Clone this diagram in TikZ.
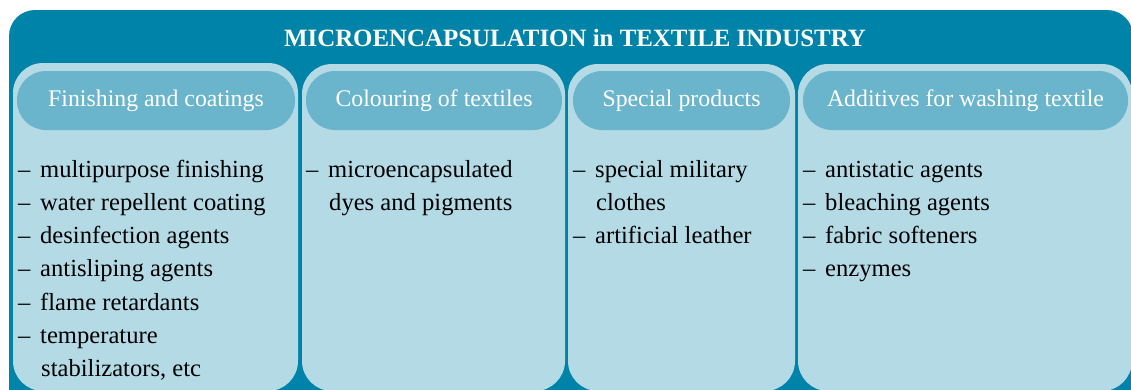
\documentclass[tikz,border=0pt]{standalone}
\usepackage{fontspec}
\setmainfont{Liberation Serif}
\definecolor{darkteal}{HTML}{0083A8}
\definecolor{panelblue}{HTML}{B3DAE5}
\definecolor{pillblue}{HTML}{6AB5CB}
\newcommand{\itm}[1]{\makebox[22pt][l]{--}#1}
\newcommand{\cnt}[1]{\hspace*{23pt}#1}

\begin{document}
\begin{tikzpicture}[x=1pt, y=-1pt,
        panel/.style={fill=panelblue, rounded corners=30pt},
        pill/.style={fill=pillblue, rounded corners=29pt, minimum height=59pt, inner sep=0pt,
            text=white, text height=16pt, text depth=5pt, font=\fontsize{23.8}{28}\selectfont},
        item/.style={anchor=base west, inner sep=0pt, font=\fontsize{24.6}{30}\selectfont}]
        \useasboundingbox (0,0) rectangle (1131,389);
        
        % frame and title
        \fill[darkteal, rounded corners=26pt] (9,10) rectangle (1133,430);
        \node[text=white, font=\bfseries\fontsize{24.9}{30}\selectfont] (title) at (575,37.5) {MICROENCAPSULATION in TEXTILE INDUSTRY};
        
        % panels
        \fill[panel] (13,63) rectangle (298,391);
        \fill[panel] (302,64) rectangle (565,391);
        \fill[panel] (568,64) rectangle (795,391);
        \fill[panel] (798,64) rectangle (1132,391);
        
        % headers
        \node[pill, minimum width=278pt] (fin) at (156,100.5) {Finishing and coatings};
        \node[pill, minimum width=256pt] (col) at (434,100.5) {Colouring of textiles};
        \node[pill, minimum width=217pt] (spe) at (681.5,100.5) {Special products};
        \node[pill, minimum width=325pt] (add) at (965.5,100.5) {Additives for washing textile};
        
        % lists
        \foreach \t [count=\n] in {{\itm{multipurpose finishing}}, {\itm{water repellent coating}},
            {\itm{desinfection agents}}, {\itm{antisliping agents}}, {\itm{flame retardants}},
            {\itm{temperature}}, {\cnt{stabilizators, etc}}}
            \node[item] (fin-\n) at (18,{177+33.3*(\n-1)}) {\t};
        
        \foreach \t [count=\n] in {{\itm{microencapsulated}}, {\cnt{dyes and pigments}}}
            \node[item] (col-\n) at (306,{177+33.3*(\n-1)}) {\t};
        
        \foreach \t [count=\n] in {{\itm{special military}}, {\cnt{clothes}}, {\itm{artificial leather}}}
            \node[item] (spe-\n) at (573,{177+33.3*(\n-1)}) {\t};
        
        \foreach \t [count=\n] in {{\itm{antistatic agents}}, {\itm{bleaching agents}},
            {\itm{fabric softeners}}, {\itm{enzymes}}}
            \node[item] (add-\n) at (803,{177+33.3*(\n-1)}) {\t};
        
    \end{tikzpicture}
\end{document}
